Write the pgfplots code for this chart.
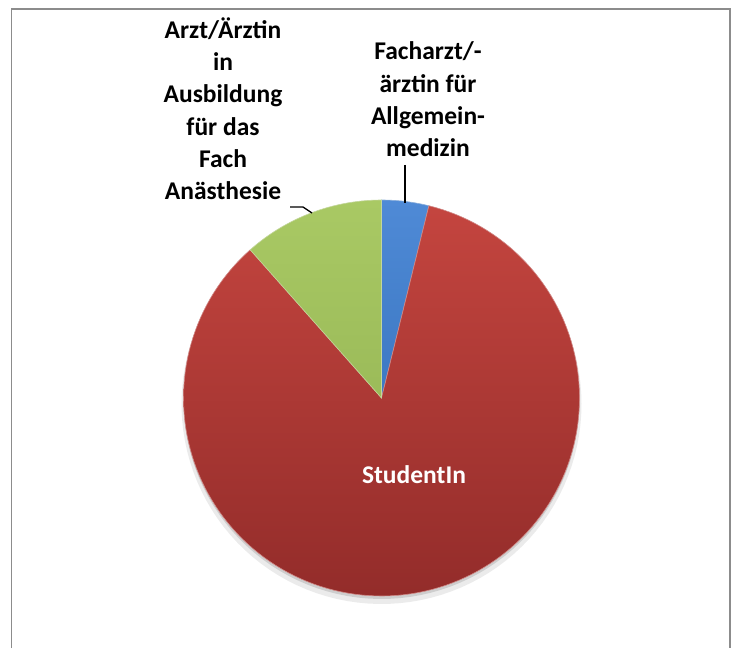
\documentclass[border=0pt]{standalone}
\usepackage{pgfplots}
\pgfplotsset{compat=1.18}
\usepackage{fontspec}
\setmainfont{Carlito}
\definecolor{pieblue}{HTML}{3C78C3}
\definecolor{pieblueL}{HTML}{4F8AD6}
\definecolor{piered}{HTML}{B03836}
\definecolor{pieredL}{HTML}{C4453F}
\definecolor{pieredD}{HTML}{932C2A}
\definecolor{piegreen}{HTML}{9BBB59}
\definecolor{piegreenL}{HTML}{A9C964}
\definecolor{framegray}{HTML}{8C8C8C}
% data: number of respondents per group
\def\vFach{1}%
\def\vStud{22}%
\def\vArzt{3}%
\pgfmathsetmacro\tot{\vFach+\vStud+\vArzt}%
\pgfmathsetmacro\aA{90}%
\pgfmathsetmacro\aB{\aA-360*\vFach/\tot}%
\pgfmathsetmacro\aC{\aB-360*\vStud/\tot}%
\pgfmathsetmacro\aD{\aC-360*\vArzt/\tot}%
\def\cx{381.5}%
\def\cy{250}%
\def\rad{198}%
\newcommand\lbl{\bfseries\fontsize{25.5}{30}\selectfont}
\begin{document}%
\begin{tikzpicture}
\begin{axis}[scale only axis, width=736pt, height=648pt,
  xmin=0, xmax=736, ymin=0, ymax=648, hide axis, clip=false]
\path (axis cs:0,0) rectangle (axis cs:736,648);
% frame
\draw[framegray, line width=1.5pt] (axis cs:11.5,0) -- (axis cs:11.5,639) -- (axis cs:730,639) -- (axis cs:730,0);
% shadow
\addplot[draw=none, fill=black, fill opacity=0.08, domain=0:360, samples=120, variable=\t]
  ({\cx+(\rad+2)*cos(\t)}, {\cy-6+(\rad+2)*sin(\t)}) -- cycle;
\addplot[draw=none, fill=black, fill opacity=0.12, domain=0:360, samples=120, variable=\t]
  ({\cx+\rad*cos(\t)}, {\cy-3+\rad*sin(\t)}) -- cycle;
% wedges
\addplot[draw=pieblue!60!white, line width=0.6pt, top color=pieblueL, bottom color=pieblue, domain=\aB:\aA, samples=20, variable=\t]
  ({\cx+\rad*cos(\t)}, {\cy+\rad*sin(\t)}) -- (axis cs:\cx,\cy) -- cycle;
\addplot[draw=piered!60!white, line width=0.6pt, top color=pieredL, middle color=piered, bottom color=pieredD, domain=\aC:\aB, samples=150, variable=\t]
  ({\cx+\rad*cos(\t)}, {\cy+\rad*sin(\t)}) -- (axis cs:\cx,\cy) -- cycle;
\addplot[draw=piegreen!60!white, line width=0.6pt, top color=piegreenL, bottom color=piegreen, domain=\aD:\aC, samples=30, variable=\t]
  ({\cx+\rad*cos(\t)}, {\cy+\rad*sin(\t)}) -- (axis cs:\cx,\cy) -- cycle;
% leader lines
\draw[black, line width=1.3pt] (axis cs:405,483) -- (axis cs:405,445);
\draw[black, line width=1.3pt] (axis cs:290,441) -- (axis cs:303,441) -- (axis cs:312,435);
% labels
\node[anchor=base, font=\lbl] at (axis cs:428,588) {Facharzt/-};
\node[anchor=base, font=\lbl] at (axis cs:428,555.7) {ärztin für};
\node[anchor=base, font=\lbl] at (axis cs:428,523.3) {Allgemein-};
\node[anchor=base, font=\lbl] at (axis cs:428,491) {medizin};
\node[anchor=base, font=\lbl] at (axis cs:223,609) {Arzt/Ärztin};
\node[anchor=base, font=\lbl] at (axis cs:223,577) {in};
\node[anchor=base, font=\lbl] at (axis cs:223,545) {Ausbildung};
\node[anchor=base, font=\lbl] at (axis cs:223,512.5) {für das};
\node[anchor=base, font=\lbl] at (axis cs:223,480) {Fach};
\node[anchor=base, font=\lbl] at (axis cs:223,448) {Anästhesie};
\node[anchor=base, font=\lbl, text=white] at (axis cs:414,165) {StudentIn};
\end{axis}
\end{tikzpicture}%
\end{document}
